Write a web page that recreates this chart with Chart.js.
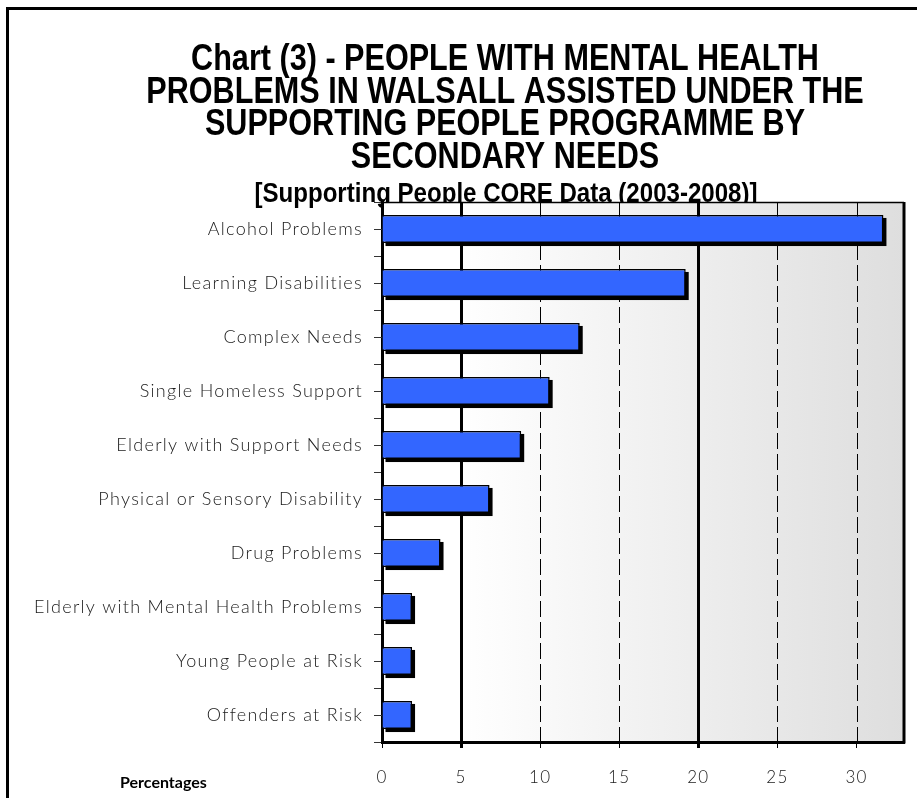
<!DOCTYPE html>
<html>
<head>
<meta charset="utf-8">
<script src="https://cdn.jsdelivr.net/npm/chart.js@4.4.0/dist/chart.umd.min.js"></script>
<style>
  html, body { margin: 0; padding: 0; background: #fff; overflow: hidden; }
</style>
</head>
<body>
<canvas id="needsChart" width="917" height="798"></canvas>
<script>
const categories = [
    'Alcohol Problems',
    'Learning Disabilities',
    'Complex Needs',
    'Single Homeless Support',
    'Elderly with Support Needs',
    'Physical or Sensory Disability',
    'Drug Problems',
    'Elderly with Mental Health Problems',
    'Young People at Risk',
    'Offenders at Risk'
];
const percentages = [31.7, 19.2, 12.5, 10.6, 8.8, 6.8, 3.7, 1.9, 1.9, 1.9];
const xTickValues = [0, 5, 10, 15, 20, 25, 30];
const solidGridValues = [5, 20];

const titleLines = [
    'Chart (3) - PEOPLE WITH MENTAL HEALTH',
    'PROBLEMS IN WALSALL ASSISTED UNDER THE',
    'SUPPORTING PEOPLE PROGRAMME BY',
    'SECONDARY NEEDS'
];
const subtitleText = '[Supporting People CORE Data (2003-2008)]';
const axisTitle = 'Percentages';

const labelFont = 'Lato';
const titleFont = '"Liberation Sans", Arial, sans-serif';

// squeeze a bold sans horizontally so the heading reads as a narrow face
function narrowText(ctx, text, cx, cy, squeeze) {
    ctx.save();
    ctx.translate(cx, cy);
    ctx.scale(squeeze, 1);
    ctx.fillText(text, 0, 0);
    ctx.restore();
}

// frame, titles, plot background, gridlines, bar shadows
const chartDecor = {
    id: 'chartDecor',
    beforeDraw(chart) {
        const { ctx, chartArea: a } = chart;
        ctx.save();
        ctx.fillStyle = '#fff';
        ctx.fillRect(0, 0, chart.width, chart.height);

        ctx.strokeStyle = '#000';
        ctx.lineWidth = 3;
        ctx.strokeRect(7.5, 8.5, chart.width + 40, chart.height + 40);

        ctx.fillStyle = '#000';
        ctx.textAlign = 'center';
        ctx.textBaseline = 'middle';
        ctx.font = 'bold 36px ' + titleFont;
        titleLines.forEach((line, i) => narrowText(ctx, line, 505, 60 + i * 32.7, 0.85));
        ctx.font = 'bold 28px ' + titleFont;
        narrowText(ctx, subtitleText, 506, 194, 0.86);

        ctx.textAlign = 'left';
        ctx.font = 'bold 16px ' + labelFont;
        ctx.fillText(axisTitle, 120, 783);

        const g = ctx.createLinearGradient(a.left, 0, a.right, 0);
        g.addColorStop(0, '#ffffff');
        g.addColorStop(0.15, '#ffffff');
        g.addColorStop(1, '#dedede');
        ctx.fillStyle = g;
        ctx.fillRect(a.left, a.top, a.right - a.left, a.bottom - a.top);
        ctx.restore();

        ctx.letterSpacing = '1.3px';
    },
    beforeDatasetsDraw(chart) {
        const { ctx, chartArea: a, scales } = chart;
        const x = scales.x, y = scales.y;
        ctx.save();
        ctx.strokeStyle = '#000';
        xTickValues.filter(v => v > 0).forEach(v => {
            const px = Math.round(x.getPixelForValue(v)) + 0.5;
            const solid = solidGridValues.includes(v);
            ctx.lineWidth = solid ? 3 : 1;
            ctx.setLineDash(solid ? [] : [16, 5]);
            ctx.beginPath();
            ctx.moveTo(px, a.top);
            ctx.lineTo(px, a.bottom);
            ctx.stroke();
        });
        ctx.setLineDash([]);

        // center ticks on the category axis
        ctx.lineWidth = 1;
        ctx.strokeStyle = '#333';
        categories.forEach((c, i) => {
            const py = Math.round(y.getPixelForValue(i)) + 0.5;
            ctx.beginPath();
            ctx.moveTo(a.left - 8, py);
            ctx.lineTo(a.left, py);
            ctx.stroke();
        });

        // drop shadow behind every bar
        ctx.fillStyle = '#000';
        chart.getDatasetMeta(0).data.forEach(bar => {
            const p = bar.getProps(['x', 'y', 'base', 'height'], true);
            ctx.fillRect(p.base + 3, p.y - p.height / 2 + 3, p.x - p.base, p.height);
        });
        ctx.restore();
    },
    afterDatasetsDraw(chart) {
        const { ctx, chartArea: a } = chart;
        ctx.save();
        ctx.strokeStyle = '#000';
        ctx.lineWidth = 1.5;
        ctx.beginPath();
        ctx.moveTo(a.left, a.top + 0.5);
        ctx.lineTo(a.right, a.top + 0.5);
        ctx.stroke();
        ctx.lineWidth = 3;
        ctx.beginPath();
        ctx.moveTo(a.right, a.top);
        ctx.lineTo(a.right, a.bottom + 1.5);
        ctx.stroke();
        ctx.restore();
    }
};

new Chart(document.getElementById('needsChart'), {
    type: 'bar',
    data: {
        labels: categories,
        datasets: [{
            data: percentages,
            backgroundColor: '#3366ff',
            borderColor: '#000',
            borderWidth: 1.5,
            categoryPercentage: 1,
            barPercentage: 0.52
        }]
    },
    options: {
        indexAxis: 'y',
        responsive: false,
        animation: false,
        layout: { padding: { top: 202, right: 13, left: 0, bottom: 0 } },
        plugins: {
            legend: { display: false },
            tooltip: { enabled: false }
        },
        scales: {
            x: {
                min: 0,
                max: 33,
                afterBuildTicks: scale => {
                    scale.ticks = xTickValues.map(v => ({ value: v }));
                },
                afterFit: scale => { scale.height = 56; },
                grid: {
                    drawOnChartArea: false,
                    tickLength: 6,
                    tickColor: '#000',
                    tickWidth: ctx => solidGridValues.includes(ctx.tick && ctx.tick.value) ? 3 : 1
                },
                border: { color: '#000', width: 3 },
                ticks: {
                    color: '#1a1a1a',
                    padding: 19,
                    font: { family: labelFont, size: 17, weight: 300 }
                }
            },
            y: {
                afterFit: scale => { scale.width = 382; },
                grid: {
                    drawOnChartArea: false,
                    tickLength: 8,
                    tickColor: '#333',
                    offset: true
                },
                border: { color: '#000', width: 3 },
                ticks: {
                    color: '#1a1a1a',
                    padding: 11,
                    font: { family: labelFont, size: 18, weight: 300 }
                }
            }
        }
    },
    plugins: [chartDecor]
});
</script>
</body>
</html>
